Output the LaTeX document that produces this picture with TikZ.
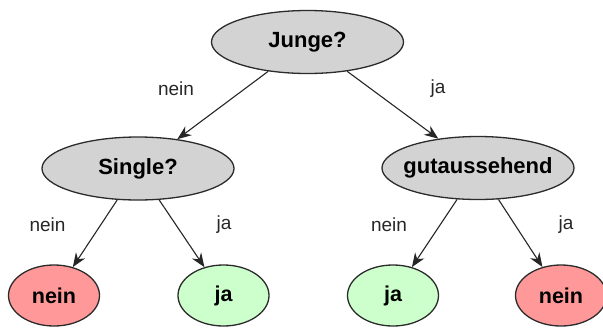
\documentclass[tikz,border=0pt]{standalone}
\usepackage{fontspec}
\setmainfont{Liberation Sans}
\usetikzlibrary{shapes.geometric,arrows.meta}
\definecolor{nodegrey}{HTML}{D3D3D3}
\definecolor{nored}{HTML}{FF9999}
\definecolor{yesgreen}{HTML}{CCFFCC}
\definecolor{rim}{HTML}{2B2B2B}
\begin{document}
\begin{tikzpicture}[x=1pt,y=-1pt,
  qnode/.style={ellipse,draw=rim,line width=1.3pt,fill=nodegrey,minimum width=192pt,minimum height=63pt,inner xsep=-12pt,inner ysep=0pt,font=\fontsize{22}{26}\selectfont\bfseries},
  leaf/.style={ellipse,draw=rim,line width=1.3pt,minimum width=91pt,minimum height=61pt,inner sep=0pt,font=\fontsize{21.5}{26}\selectfont\bfseries},
  edgelabel/.style={font=\fontsize{19}{22}\selectfont,text=black!85},
  arr/.style={-{Stealth[length=14pt,width=11pt,inset=4.5pt]},line width=1.1pt,black!85}
]
\useasboundingbox (0,0) rectangle (603,327);
\node[qnode] (junge) at (307.5,42) {Junge?};
\node[qnode] (single) at (138,168.5) {Single?};
\node[qnode] (guta) at (478,168) {gutaussehend};
\node[leaf,fill=nored] (l1) at (54,295.5) {nein};
\node[leaf,fill=yesgreen] (l2) at (223.5,295.5) {ja};
\node[leaf,fill=yesgreen] (l3) at (393,295.5) {ja};
\node[leaf,fill=nored] (l4) at (561,295.5) {nein};
\draw[arr] (junge) -- (single);
\draw[arr] (junge) -- (guta);
\draw[arr] (single) -- (l1);
\draw[arr] (single) -- (l2);
\draw[arr] (guta) -- (l3);
\draw[arr] (guta) -- (l4);
\node[edgelabel] (t1) at (176,89) {nein};
\node[edgelabel] (t2) at (438,89) {ja};
\node[edgelabel] (t3) at (47.5,225) {nein};
\node[edgelabel] (t4) at (224,225) {ja};
\node[edgelabel] (t5) at (389,225) {nein};
\node[edgelabel] (t6) at (566,225) {ja};
\end{tikzpicture}
\end{document}
